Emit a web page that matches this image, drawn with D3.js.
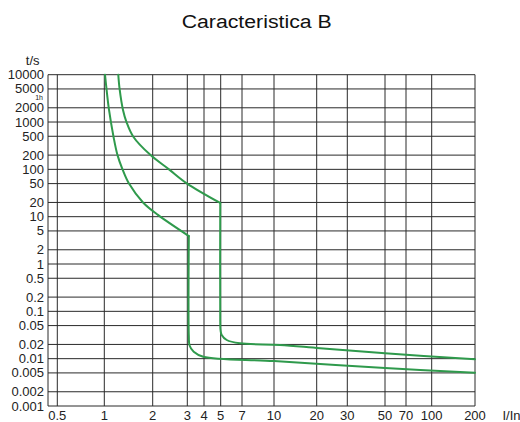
<!DOCTYPE html>
<html lang="it">

<head>
    <meta charset="UTF-8">
    <title>Caracteristica B</title>
    <script src="https://d3js.org/d3.v7.min.js"></script>
    <style>
        body {
            margin: 0;
            background-color: white;
        }

        svg {
            display: block;
            font-family: 'Liberation Sans', Arial, Helvetica, sans-serif;
        }

        .grid line {
            stroke: #2a2a2a;
            stroke-width: 1;
        }

        .curve {
            fill: none;
            stroke: #2f9a4c;
            stroke-width: 2;
            stroke-linejoin: round;
            stroke-linecap: round;
        }

        .tick-label {
            font-size: 13px;
            fill: #222;
        }
    </style>
</head>

<body>
    <svg width="520" height="422"></svg>

    <script>
        // tick values (I/In and t/s)
        const xTicks = [0.5, 1, 2, 3, 4, 5, 7, 10, 20, 30, 50, 70, 100, 200];
        const yTicks = [10000, 5000, 2000, 1000, 500, 200, 100, 50, 20, 10, 5, 2, 1,
            0.5, 0.2, 0.1, 0.05, 0.02, 0.01, 0.005, 0.002, 0.001];
        const yTickLabels = yTicks.map(String);
        const hourMark = 3600;

        // tripping curves, [I/In, t/s]
        // thermal part (down to the magnetic step) and magnetic part
        const minThermal = [
            [1.01, 10000], [1.032, 5000], [1.07, 1800], [1.141, 490], [1.208, 200],
            [1.298, 100], [1.424, 50], [1.741, 20], [2.127, 10.9], [3.08, 3.9]
        ];
        const minMagnetic = [
            [3.08, 3.9], [3.08, 0.03], [3.12, 0.019], [3.35, 0.014], [3.95, 0.011],
            [10, 0.0089], [50, 0.00635], [200, 0.00504]
        ];
        const maxThermal = [
            [1.222, 10000], [1.245, 5000], [1.307, 1800], [1.374, 1000], [1.515, 490],
            [1.94, 200], [2.42, 100], [2.98, 50.7], [4.97, 19.5]
        ];
        const maxMagnetic = [
            [4.97, 19.5], [4.97, 0.06], [4.99, 0.04], [5.08, 0.0316], [5.5, 0.0248],
            [6.78, 0.0211], [11, 0.0195], [20.9, 0.0166], [50, 0.013], [200, 0.0097]
        ];

        // layout: the printed grid is not a perfectly even log grid
        const xGridPx = [57.3, 104.3, 152.7, 187.3, 204, 220.7, 242, 274, 316.7, 347.3, 385, 406, 431.7, 475];
        const frameLeft = 48;
        const plotTop = 74.7, plotBottom = 406;

        const svg = d3.select('svg');

        const x = d3.scaleLog().domain(xTicks).range(xGridPx);
        const y = d3.scaleLog().domain([0.001, 10000]).range([plotBottom, plotTop]);
        const plotRight = x(200);

        // title
        svg.append('text')
            .attr('x', 256.7)
            .attr('y', 28)
            .attr('text-anchor', 'middle')
            .attr('textLength', 150)
            .attr('lengthAdjust', 'spacingAndGlyphs')
            .style('font-size', '18px')
            .style('fill', '#111')
            .text('Caracteristica B');

        const grid = svg.append('g').attr('class', 'grid');

        grid.selectAll('line.h')
            .data(yTicks)
            .enter().append('line')
            .attr('class', 'h')
            .attr('x1', frameLeft)
            .attr('x2', plotRight)
            .attr('y1', d => y(d))
            .attr('y2', d => y(d));

        grid.selectAll('line.v')
            .data(xTicks)
            .enter().append('line')
            .attr('class', 'v')
            .attr('x1', d => x(d))
            .attr('x2', d => x(d))
            .attr('y1', plotTop)
            .attr('y2', plotBottom);

        grid.append('line')
            .attr('x1', frameLeft)
            .attr('x2', frameLeft)
            .attr('y1', plotTop)
            .attr('y2', plotBottom);

        // y labels
        svg.selectAll('text.ylab')
            .data(yTicks)
            .enter().append('text')
            .attr('class', 'tick-label ylab')
            .attr('x', 44)
            .attr('y', d => y(d))
            .attr('dy', '0.35em')
            .attr('text-anchor', 'end')
            .text((d, i) => yTickLabels[i]);

        // the hour mark is squeezed between 5000 and 2000
        svg.append('text')
            .attr('class', 'tick-label')
            .attr('x', 43)
            .attr('y', y(hourMark) + 4.8)
            .attr('text-anchor', 'end')
            .style('font-size', '7px')
            .text('1h');

        svg.append('text')
            .attr('class', 'tick-label')
            .attr('x', 32.7)
            .attr('y', 64.5)
            .attr('text-anchor', 'middle')
            .text('t/s');

        // x labels
        svg.selectAll('text.xlab')
            .data(xTicks)
            .enter().append('text')
            .attr('class', 'tick-label xlab')
            .attr('x', d => x(d))
            .attr('y', 419.5)
            .attr('text-anchor', 'middle')
            .text(d => String(d));

        svg.append('text')
            .attr('class', 'tick-label')
            .attr('x', 502.5)
            .attr('y', 419.5)
            .text('I/In');

        // each part is smoothed on its own so the step corners stay sharp
        const line = d3.line()
            .x(d => x(d[0]))
            .y(d => y(d[1]))
            .curve(d3.curveCatmullRom.alpha(0.5));

        svg.selectAll('path.curve')
            .data([minThermal, minMagnetic, maxThermal, maxMagnetic])
            .enter().append('path')
            .attr('class', 'curve')
            .attr('d', line);
    </script>
</body>

</html>
